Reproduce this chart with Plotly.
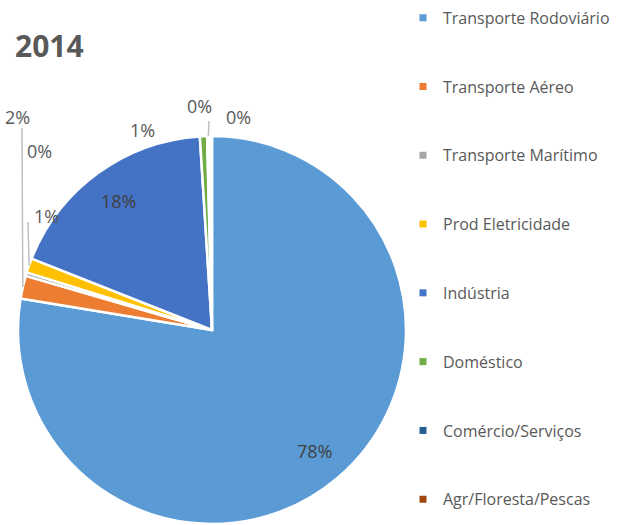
import math
import plotly.graph_objects as go

title = "2014"
labels = ["Transporte Rodoviário", "Transporte Aéreo", "Transporte Marítimo",
          "Prod Eletricidade", "Indústria", "Doméstico",
          "Comércio/Serviços", "Agr/Floresta/Pescas"]
values = [77.6, 1.9, 0.3, 1.2, 18.0, 0.6, 0.2, 0.2]
colors = ["#5B9BD5", "#ED7D31", "#A5A5A5", "#FFC000", "#4472C4",
          "#70AD47", "#255E91", "#9E480E"]

W, H = 635, 525
PIE_CX, PIE_CY, PIE_R = 212, 330, 194
font_color = "#595959"
FONT = "Open Sans"

inside_frac = {0: 0.82, 4: 0.82}
outside_text = {1: (17, 117), 2: (39, 151), 3: (46, 216), 5: (142, 130),
                6: (199, 106), 7: (238, 117)}
leader_end = {1: (22, 128), 3: (28, 222), 6: (209, 121)}


def to_paper(x, y):
    return x / W, 1 - y / H


total = sum(values)
fig = go.Figure()
fig.add_trace(go.Pie(
    labels=labels, values=values, sort=False, direction="clockwise",
    rotation=0, marker=dict(colors=colors, line=dict(color="white", width=2.5)),
    textinfo="none", showlegend=False, hoverinfo="label+percent",
    domain=dict(x=[(PIE_CX - PIE_R) / W, (PIE_CX + PIE_R) / W],
                y=[1 - (PIE_CY + PIE_R) / H, 1 - (PIE_CY - PIE_R) / H]),
))
for lab, col in zip(labels, colors):
    fig.add_trace(go.Scatter(
        x=[None], y=[None], mode="markers", name=lab, legendgroup=lab,
        marker=dict(symbol="square", size=7, color=col),
    ))

annotations = []
shapes = []
cum = 0.0
for i, v in enumerate(values):
    mid = (cum + v / 2) / total
    cum += v
    theta = 2 * math.pi * mid
    pct = f"{round(v / total * 100)}%"
    if i in inside_frac:
        r = PIE_R * inside_frac[i]
        px, py = PIE_CX + r * math.sin(theta), PIE_CY - r * math.cos(theta)
        col = "#404040"
    else:
        px, py = outside_text[i]
        col = font_color
    x, y = to_paper(px, py)
    annotations.append(dict(x=x, y=y, xref="paper", yref="paper", text=pct,
                            showarrow=False, xanchor="center", yanchor="middle",
                            font=dict(size=18, color=col, family=FONT)))
    if i in leader_end:
        ex = PIE_CX + PIE_R * math.sin(theta)
        ey = PIE_CY - PIE_R * math.cos(theta)
        x0, y0 = to_paper(ex, ey)
        x1, y1 = to_paper(*leader_end[i])
        shapes.append(dict(type="line", xref="paper", yref="paper",
                           x0=x0, y0=y0, x1=x1, y1=y1,
                           line=dict(color="#BFBFBF", width=1.5)))

fig.update_layout(
    width=W, height=H,
    margin=dict(l=0, r=0, t=0, b=0, autoexpand=False),
    paper_bgcolor="white", plot_bgcolor="white",
    xaxis=dict(visible=False), yaxis=dict(visible=False),
    title=dict(text=f"<b>{title}</b>", x=15 / W, xanchor="left", y=1 - 46 / H,
               yanchor="middle", font=dict(size=30, color=font_color, family=FONT)),
    legend=dict(x=403 / W, xanchor="left", y=0.9986, yanchor="top",
                font=dict(size=16, color=font_color, family=FONT),
                tracegroupgap=45, itemwidth=30, bgcolor="rgba(0,0,0,0)",
                maxheight=600),
    annotations=annotations, shapes=shapes,
)
fig.write_html("out.html", config={"displayModeBar": False},
               post_script="document.body.style.margin='0';"
                           "document.body.style.overflow='hidden';")
